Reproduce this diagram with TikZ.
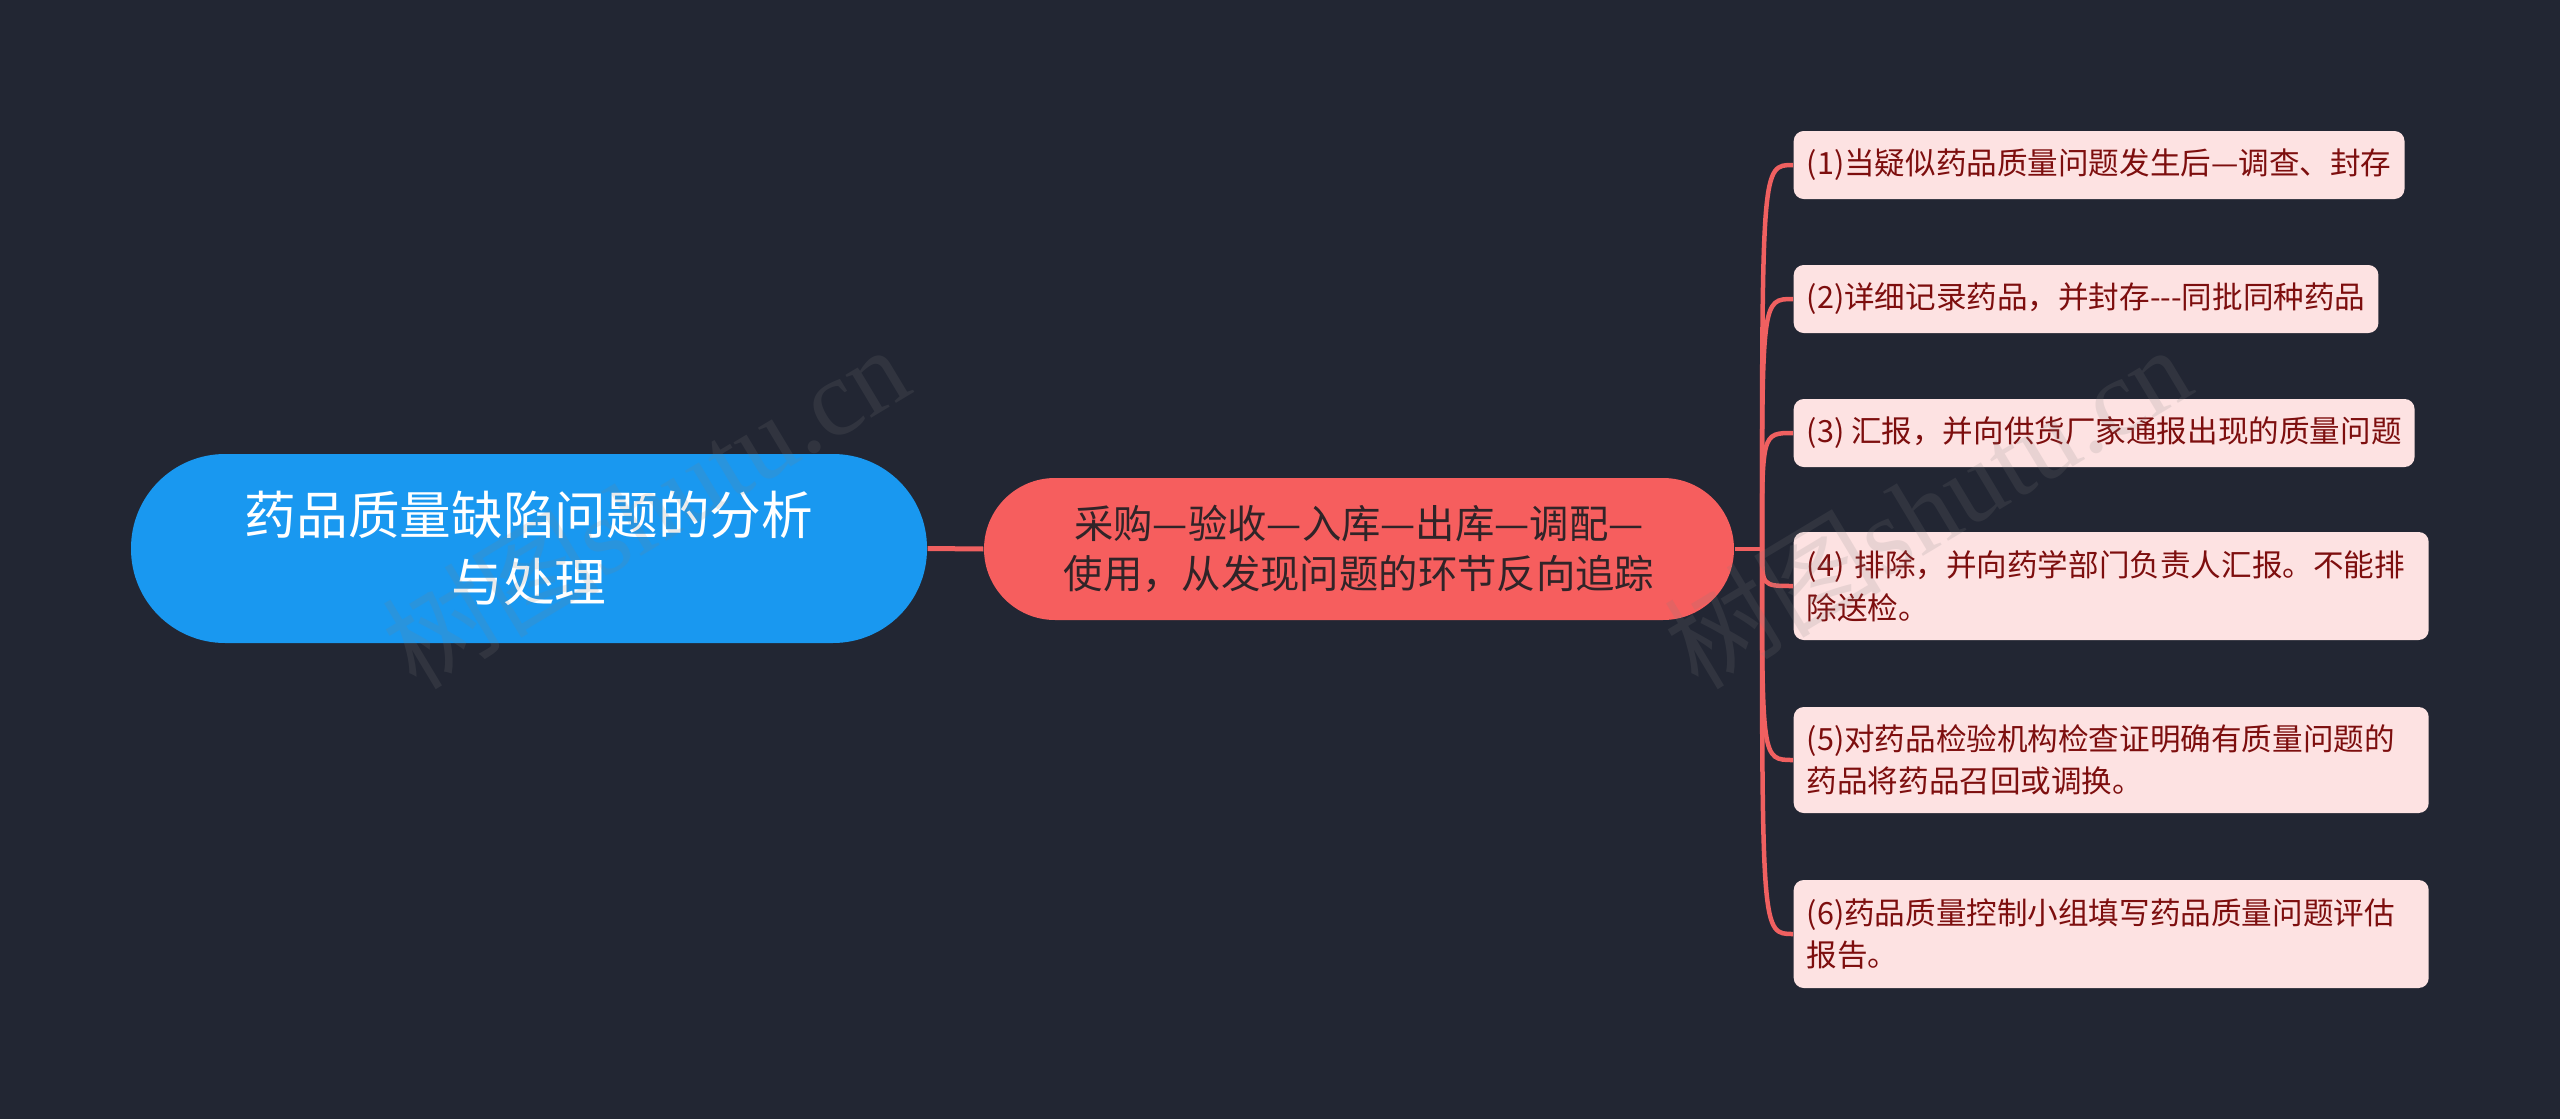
\documentclass[tikz,border=0pt]{standalone}
\usepackage{fontspec}
\setmainfont{Noto Sans CJK SC}
\newfontfamily\wmfont{Liberation Serif}
\usetikzlibrary{calc}
\definecolor{bgc}{RGB}{34,38,51}
\definecolor{rootc}{RGB}{25,152,240}
\definecolor{midc}{RGB}{246,94,94}
\definecolor{midtext}{RGB}{48,36,40}
\definecolor{leafc}{RGB}{253,226,226}
\definecolor{leaftext}{RGB}{125,14,14}
\definecolor{linkc}{RGB}{240,96,96}
\tikzset{
  rootbox/.style={fill=rootc, text=white, draw=none, align=center,
    minimum width=79.6mm, minimum height=18.9mm, rounded corners=9.4mm,
    font=\fontsize{14.7pt}{19pt}\selectfont},
  midbox/.style={fill=midc, text=midtext, draw=none, align=center,
    minimum width=75mm, minimum height=14.2mm, rounded corners=7.1mm,
    font=\fontsize{11.2pt}{14pt}\selectfont},
  leafbox/.style={fill=leafc, text=leaftext, draw=none, align=left, anchor=west,
    rounded corners=1mm, inner xsep=1.3mm, inner ysep=0pt,
    font=\fontsize{8.7pt}{12.1pt}\selectfont},
  link/.style={draw=linkc, line width=0.45mm},
  watermark/.style={text=gray, opacity=0.16, rotate=31,
    font=\fontsize{31pt}{31pt}\selectfont}
}
\begin{document}
\begin{tikzpicture}[x=0.1mm, y=-0.1mm]
\fill[bgc] (0,0) rectangle (2560,1119);
\useasboundingbox (0,0) rectangle (2560,1119);

\node[rootbox] (root) at (529,548.5) {药品质量缺陷问题的分析\\与处理};
\node[midbox] (mid) at (1359,549) {采购—验收—入库—出库—调配—\\使用，从发现问题的环节反向追踪};

\node[leafbox, minimum height=6.8mm] (c1) at (1793,165) {(1)当疑似药品质量问题发生后—调查、封存};
\node[leafbox, minimum height=6.8mm] (c2) at (1793,299) {(2)详细记录药品，并封存-\kern0pt-\kern0pt-同批同种药品};
\node[leafbox, minimum height=6.8mm] (c3) at (1793,433) {(3) 汇报，并向供货厂家通报出现的质量问题};
\node[leafbox, text width=60.9mm, minimum height=10.8mm] (c4) at (1793,586) {(4) 排除，并向药学部门负责人汇报。不能排\\除送检。};
\node[leafbox, text width=60.9mm, minimum height=10.6mm] (c5) at (1793,760) {(5)对药品检验机构检查证明确有质量问题的\\药品将药品召回或调换。};
\node[leafbox, text width=60.9mm, minimum height=10.8mm] (c6) at (1793,934) {(6)药品质量控制小组填写药品质量问题评估\\报告。};

\coordinate (j) at (1762,549);

\draw[link, line width=0.5mm] (root.east) -- (mid.west);
\draw[link] (mid.east) -- (j);
\foreach \c in {c1,c2,c3,c4,c5,c6}{
  \draw[link] (j) .. controls (j |- \c.west) .. (\c.west);
}

\node[watermark] (wm1) at (645,506) {树图{\wmfont shutu.cn}};
\node[watermark] (wm2) at (1927,506) {树图{\wmfont shutu.cn}};
\end{tikzpicture}
\end{document}
